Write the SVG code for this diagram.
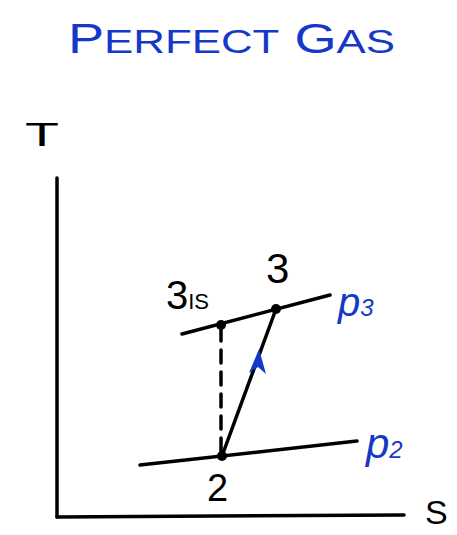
<svg xmlns="http://www.w3.org/2000/svg" width="457" height="535" viewBox="0 0 457 535">
<style>
.blue{fill:#1538c8;font-family:"Liberation Sans",sans-serif}
.blk{fill:#000;font-family:"Liberation Sans",sans-serif}
.ln{stroke:#000;stroke-width:3.5;fill:none;stroke-linecap:round}
</style>
<rect width="457" height="535" fill="#fff"/>
<g id="title"><text class="blue" x="68" y="53" font-size="42" textLength="327" lengthAdjust="spacingAndGlyphs">P<tspan font-size="34">ERFECT</tspan>  G<tspan font-size="34">AS</tspan></text></g>
<g id="axes">
<line class="ln" x1="57" y1="178" x2="57" y2="517"/>
<line class="ln" x1="57" y1="517" x2="404" y2="515"/>
<text class="blk" x="25" y="146" font-size="34" textLength="34" lengthAdjust="spacingAndGlyphs">T</text>
<text class="blk" x="425" y="524" font-size="34">S</text>
</g>
<g id="isobar-p3">
<line class="ln" x1="182" y1="334" x2="330" y2="295"/>
<text class="blue" x="338" y="316" font-size="40" font-style="italic">p<tspan font-size="24">3</tspan></text>
</g>
<g id="isobar-p2">
<line class="ln" x1="140" y1="465" x2="357" y2="441"/>
<text class="blue" x="366" y="458" font-size="42" font-style="italic">p<tspan font-size="24">2</tspan></text>
</g>
<g id="connectors">
<line class="ln" x1="221" y1="328" x2="221" y2="452" stroke-dasharray="13,9" stroke-width="3"/>
<line class="ln" x1="222" y1="456" x2="276" y2="309"/>
<path d="M259,349 L249,373 L258,367 L266,374 Z" fill="#1538c8"/>
</g>
<g id="point-3is">
<circle cx="221" cy="325" r="5"/>
<text class="blk" x="166" y="309" font-size="40">3<tspan font-size="22">IS</tspan></text>
</g>
<g id="point-3">
<circle cx="276" cy="309" r="5"/>
<text class="blk" x="266" y="283" font-size="42">3</text>
</g>
<g id="point-2">
<circle cx="222" cy="456" r="5"/>
<text class="blk" x="207" y="501" font-size="38">2</text>
</g>
</svg>
